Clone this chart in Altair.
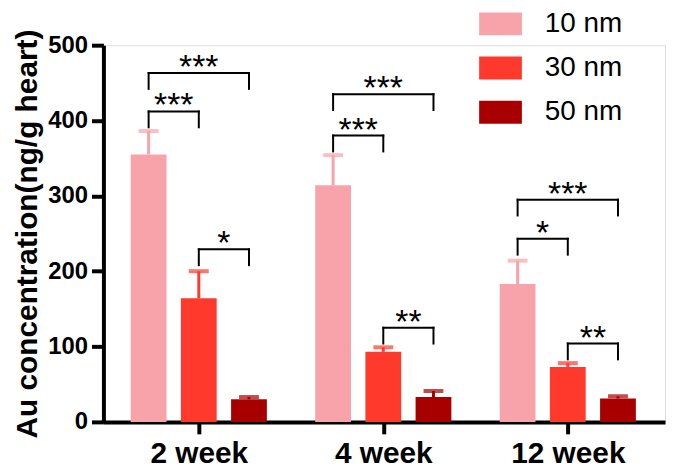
import json
import altair as alt
import pandas as pd

weeks = ["2 week", "4 week", "12 week"]
sizes = ["10 nm", "30 nm", "50 nm"]
colors = ["#F8A3AA", "#FF3A2C", "#A80000"]

mean_10 = [355, 314, 183]
mean_30 = [164, 93, 73]
mean_50 = [30, 33, 31]
err_10 = [31, 40, 31]
err_30 = [36, 6, 5]
err_50 = [3, 8, 3]

br_week = [0, 0, 0, 1, 1, 1, 2, 2, 2]
br_from = [0, 0, 1, 0, 0, 1, 0, 0, 1]
br_to = [1, 2, 2, 1, 2, 2, 1, 2, 2]
br_y = [412, 463, 229, 380, 435, 125, 243, 295, 104]
br_label = ["***", "***", "*", "***", "***", "**", "*", "***", "**"]
br_drop = 21

OFF = 0.272
FONT = "Liberation Sans"

rows = []
for si, (s, m, e) in enumerate(zip(sizes, [mean_10, mean_30, mean_50], [err_10, err_30, err_50])):
    for wi in range(len(weeks)):
        rows.append({"size": s, "week": wi, "pos": wi + (si - 1) * OFF,
                     "mean": m[wi], "upper": m[wi] + e[wi]})
df = pd.DataFrame(rows)

brows = []
for w, f, t, y, lab in zip(br_week, br_from, br_to, br_y, br_label):
    x1 = w + (f - 1) * OFF
    x2 = w + (t - 1) * OFF
    brows.append({"x1": x1, "x2": x2, "xm": (x1 + x2) / 2, "y": y, "yend": y - br_drop, "label": lab})
bdf = pd.DataFrame(brows)

xscale = alt.Scale(domain=[-0.49, 2.5], nice=False, zero=False)
yscale = alt.Scale(domain=[0, 500], nice=False)
cscale = alt.Scale(domain=sizes, range=colors)

xaxis = alt.Axis(values=[0, 1, 2], labelExpr=json.dumps(weeks) + "[datum.value]", title=None,
                 grid=False, domainWidth=4, domainColor="black", tickWidth=4, tickColor="black",
                 tickSize=12, labelFont=FONT, labelFontSize=30, labelFontWeight="bold",
                 labelColor="black", labelPadding=5)
yaxis = alt.Axis(values=[0, 100, 200, 300, 400, 500], title="Au concentration(ng/g heart)",
                 grid=False, domainWidth=4, domainColor="black", tickWidth=4, tickColor="black",
                 tickSize=12, labelFont=FONT, labelFontSize=24, labelFontWeight="bold",
                 labelColor="black", labelPadding=4, titleFont=FONT, titleFontSize=30,
                 titleFontWeight="bold", titleColor="black", titleX=-67, titleBaseline="alphabetic")

base = alt.Chart(df)

bars = base.mark_bar(size=36, orient="vertical").encode(
    x=alt.X("pos:Q", scale=xscale, axis=xaxis),
    y=alt.Y("mean:Q", scale=yscale, axis=yaxis),
    color=alt.Color("size:N", scale=cscale, legend=alt.Legend(
        title=None, orient="none", legendX=378, legendY=-43, padding=0, rowPadding=8.5,
        symbolType="M-1,-0.535L1,-0.535L1,0.535L-1,0.535Z", symbolSize=1849,
        symbolStrokeWidth=0, labelFont=FONT, labelFontSize=28, labelColor="black",
        labelOffset=23)),
)

err_line = base.mark_rule(strokeWidth=3).encode(
    x="pos:Q", y="mean:Q", y2="upper:Q",
    color=alt.Color("size:N", scale=cscale, legend=None),
)
err_cap = base.mark_tick(orient="horizontal", size=20, thickness=4).encode(
    x="pos:Q", y="upper:Q",
    color=alt.Color("size:N", scale=cscale, legend=None),
)

bb = alt.Chart(bdf)
h = bb.mark_rule(strokeWidth=2, color="black", strokeCap="square").encode(x="x1:Q", x2="x2:Q", y="y:Q")
vl = bb.mark_rule(strokeWidth=2, color="black", strokeCap="square").encode(x="x1:Q", y="y:Q", y2="yend:Q")
vr = bb.mark_rule(strokeWidth=2, color="black", strokeCap="square").encode(x="x2:Q", y="y:Q", y2="yend:Q")
stars = bb.mark_text(font=FONT, fontSize=34, color="black", baseline="alphabetic", dy=5).encode(
    x="xm:Q", y="y:Q", text="label:N")

chart = alt.layer(bars, err_line, err_cap, h, vl, vr, stars).properties(
    width=565, height=379,
    autosize=alt.AutoSizeParams(type="none"),
    padding={"left": 96, "top": 36, "right": 2, "bottom": 50},
).configure_view(stroke=None).configure(background="white")

chart.save("out.html", embed_options={"renderer": "svg", "actions": False})
